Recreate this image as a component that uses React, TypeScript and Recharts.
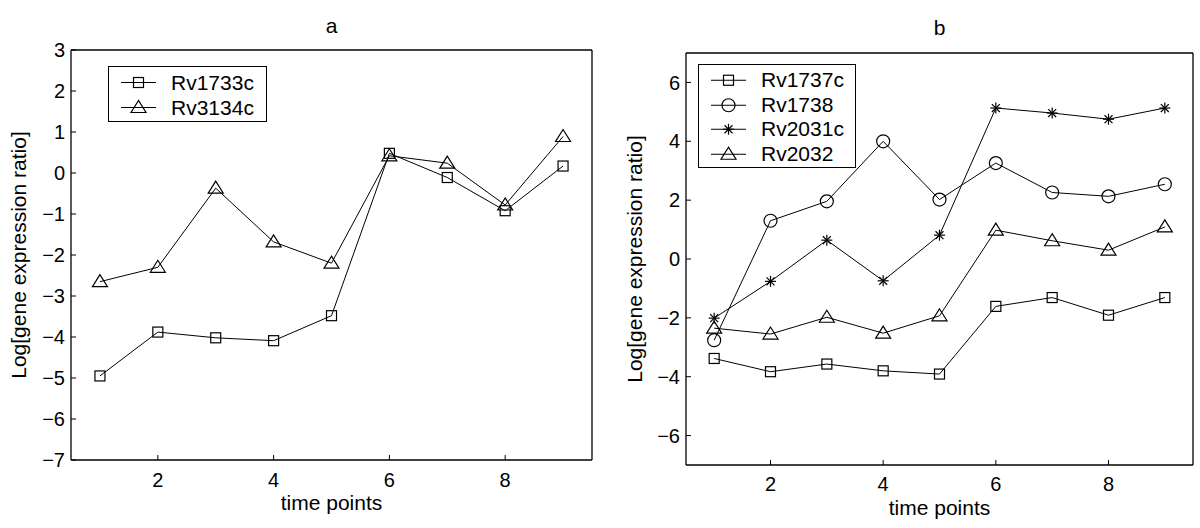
import React from 'react';
import { LineChart, Line, XAxis, YAxis, Legend } from 'recharts';

const timePoints = [1, 2, 3, 4, 5, 6, 7, 8, 9];
const rv1733c = [-4.95, -3.88, -4.02, -4.09, -3.48, 0.48, -0.11, -0.92, 0.17];
const rv3134c = [-2.65, -2.3, -0.37, -1.68, -2.2, 0.42, 0.24, -0.78, 0.89];
const rv1737c = [-3.38, -3.83, -3.57, -3.8, -3.91, -1.61, -1.31, -1.91, -1.31];
const rv1738 = [-2.76, 1.3, 1.96, 4.0, 2.02, 3.26, 2.26, 2.13, 2.54];
const rv2031c = [-2.01, -0.76, 0.64, -0.74, 0.81, 5.13, 4.96, 4.75, 5.13];
const rv2032 = [-2.35, -2.55, -1.98, -2.52, -1.93, 0.98, 0.62, 0.3, 1.09];

const xTicks = [2, 4, 6, 8];
const yTicksA = [-7, -6, -5, -4, -3, -2, -1, 0, 1, 2, 3];
const yTicksB = [-6, -4, -2, 0, 2, 4, 6];

const dataA = timePoints.map((t, i) => ({ t, Rv1733c: rv1733c[i], Rv3134c: rv3134c[i] }));
const dataB = timePoints.map((t, i) => ({
  t,
  Rv1737c: rv1737c[i],
  Rv1738: rv1738[i],
  Rv2031c: rv2031c[i],
  Rv2032: rv2032[i],
}));

const seriesA = [
  { key: 'Rv1733c', marker: 'square' },
  { key: 'Rv3134c', marker: 'triangle' },
];
const seriesB = [
  { key: 'Rv1737c', marker: 'square' },
  { key: 'Rv1738', marker: 'circle' },
  { key: 'Rv2031c', marker: 'star' },
  { key: 'Rv2032', marker: 'triangle' },
];

const markerOf: Record<string, string> = {};
[...seriesA, ...seriesB].forEach((s) => (markerOf[s.key] = s.marker));

const FONT = '"Liberation Sans", Arial, Helvetica, sans-serif';
const fmt = (v: number) => (v < 0 ? '\u2212' + Math.abs(v) : String(v));

function Marker({ shape, cx, cy }: { shape: string; cx: number; cy: number }) {
  const common = { fill: 'none', stroke: '#000', strokeWidth: 1.2 };
  if (shape === 'square') return <rect x={cx - 5} y={cy - 5} width={10} height={10} {...common} />;
  if (shape === 'circle') return <circle cx={cx} cy={cy} r={6.5} {...common} />;
  if (shape === 'triangle')
    return <polygon points={`${cx},${cy - 7} ${cx - 7.5},${cy + 5} ${cx + 7.5},${cy + 5}`} {...common} />;
  const r = 5.5;
  const d = r * 0.72;
  return (
    <g {...common}>
      <line x1={cx - r} y1={cy} x2={cx + r} y2={cy} />
      <line x1={cx} y1={cy - r} x2={cx} y2={cy + r} />
      <line x1={cx - d} y1={cy - d} x2={cx + d} y2={cy + d} />
      <line x1={cx - d} y1={cy + d} x2={cx + d} y2={cy - d} />
    </g>
  );
}

const renderDot = (shape: string) => (props: any) => {
  if (props.cx == null || props.cy == null) return <g key={`e${props.index}`} />;
  return (
    <g key={`${shape}-${props.index}`}>
      <Marker shape={shape} cx={props.cx} cy={props.cy} />
    </g>
  );
};

const renderLegend = (boxWidth: number, rowH: number) => (props: any) => {
  const items = (props.payload || []).filter((p: any) => p.type !== 'none');
  return (
    <div
      style={{
        boxSizing: 'border-box',
        width: boxWidth,
        border: '1.3px solid #000',
        background: '#fff',
        padding: '3px 0 1px 0',
        fontFamily: FONT,
        fontSize: 21,
        color: '#000',
      }}
    >
      {items.map((p: any) => (
        <div key={p.value} style={{ display: 'flex', alignItems: 'center', height: rowH }}>
          <svg width={62} height={rowH} style={{ display: 'block', flex: 'none' }}>
            <line x1={12} x2={47} y1={rowH / 2} y2={rowH / 2} stroke="#000" strokeWidth={1} />
            <Marker shape={markerOf[p.value]} cx={29.5} cy={rowH / 2} />
          </svg>
          <span style={{ lineHeight: `${rowH}px`, whiteSpace: 'nowrap' }}>{p.value}</span>
        </div>
      ))}
    </div>
  );
};

type PanelProps = {
  data: any[];
  series: { key: string; marker: string }[];
  yDomain: [number, number];
  yTicks: number[];
  title: string;
  margin: { top: number; right: number; bottom: number; left: number };
  yAxisWidth: number;
  xAxisHeight: number;
  yLabelOffset: number;
  xLabelOffset: number;
  titleOffset: number;
  xTickMargin: number;
  legendLeft: number;
  legendTop: number;
  legendWidth: number;
  legendRow: number;
};

const axisStroke = { stroke: '#000', strokeWidth: 1.3 };
const tickStroke = { stroke: '#000', strokeWidth: 1 };
const tickFont = { fill: '#000', fontSize: 20, fontFamily: FONT };

function Panel(p: PanelProps) {
  return (
    <LineChart width={600} height={528} data={p.data} margin={p.margin} style={{ fontFamily: FONT }}>
      <XAxis
        dataKey="t"
        type="number"
        domain={[0.5, 9.5]}
        allowDataOverflow
        ticks={xTicks}
        interval={0}
        height={p.xAxisHeight}
        tickSize={-5}
        tickMargin={p.xTickMargin}
        tick={tickFont}
        axisLine={axisStroke}
        tickLine={tickStroke}
        label={{
          value: 'time points',
          position: 'insideBottom',
          offset: p.xLabelOffset,
          fill: '#000',
          fontSize: 21,
          fontFamily: FONT,
        }}
      />
      <XAxis
        xAxisId="top"
        orientation="top"
        dataKey="t"
        type="number"
        domain={[0.5, 9.5]}
        allowDataOverflow
        ticks={xTicks}
        interval={0}
        height={1}
        tickSize={-5}
        tick={false}
        axisLine={axisStroke}
        tickLine={tickStroke}
        label={{
          value: p.title,
          position: 'top',
          offset: p.titleOffset,
          fill: '#000',
          fontSize: 21,
          fontFamily: FONT,
        }}
      />
      <YAxis
        type="number"
        domain={p.yDomain}
        allowDataOverflow
        ticks={p.yTicks}
        interval={0}
        width={p.yAxisWidth}
        tickSize={-5}
        tickMargin={11}
        tickFormatter={fmt}
        tick={tickFont}
        axisLine={axisStroke}
        tickLine={tickStroke}
        label={{
          value: 'Log[gene expression ratio]',
          angle: -90,
          position: 'insideLeft',
          offset: p.yLabelOffset,
          fill: '#000',
          fontSize: 21,
          fontFamily: FONT,
          style: { textAnchor: 'middle' },
        }}
      />
      <YAxis
        yAxisId="right"
        orientation="right"
        type="number"
        domain={p.yDomain}
        allowDataOverflow
        ticks={p.yTicks}
        interval={0}
        width={1}
        tickSize={-5}
        tick={false}
        axisLine={axisStroke}
        tickLine={tickStroke}
      />
      <Legend
        layout="vertical"
        align="center"
        verticalAlign="middle"
        wrapperStyle={{ left: p.legendLeft, top: p.legendTop, width: 'auto', height: 'auto' }}
        content={renderLegend(p.legendWidth, p.legendRow)}
      />
      {p.series.map((s) => (
        <Line
          key={s.key}
          dataKey={s.key}
          name={s.key}
          stroke="#000"
          strokeWidth={1}
          dot={renderDot(s.marker)}
          activeDot={false}
          isAnimationActive={false}
        />
      ))}
      <Line
        xAxisId="top"
        yAxisId="right"
        dataKey={p.series[0].key}
        stroke="none"
        dot={false}
        activeDot={false}
        legendType="none"
        isAnimationActive={false}
      />
    </LineChart>
  );
}

export default function App() {
  return (
    <div style={{ position: 'absolute', left: 0, top: 0, width: 1200, height: 528, background: '#fff' }}>
      <div style={{ position: 'absolute', left: 0, top: 0 }}>
        <Panel
          data={dataA}
          series={seriesA}
          yDomain={[-7, 3]}
          yTicks={yTicksA}
          title="a"
          margin={{ top: 49, right: 7, bottom: 8, left: 0 }}
          yAxisWidth={71}
          xAxisHeight={60}
          yLabelOffset={19}
          xLabelOffset={10}
          titleOffset={16}
          xTickMargin={18}
          legendLeft={108}
          legendTop={65.5}
          legendWidth={159}
          legendRow={25}
        />
      </div>
      <div style={{ position: 'absolute', left: 600, top: 0 }}>
        <Panel
          data={dataB}
          series={seriesB}
          yDomain={[-7, 7]}
          yTicks={yTicksB}
          title="b"
          margin={{ top: 52, right: 6, bottom: 8, left: 0 }}
          yAxisWidth={86}
          xAxisHeight={55}
          yLabelOffset={35}
          xLabelOffset={5}
          titleOffset={17}
          xTickMargin={17}
          legendLeft={98}
          legendTop={64}
          legendWidth={158}
          legendRow={24.5}
        />
      </div>
    </div>
  );
}
